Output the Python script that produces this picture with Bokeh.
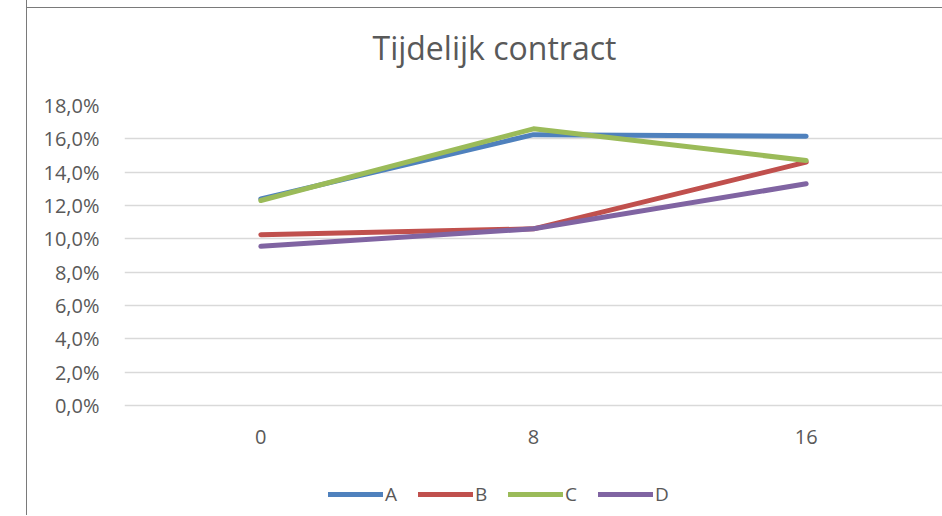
from bokeh.plotting import figure
from bokeh.models import FactorRange, FixedTicker, Legend, LegendItem, ColumnDataSource
from bokeh.embed import file_html
from bokeh.resources import INLINE

# ---- data ----
categories = ["0", "8", "16"]
series_names = ["A", "B", "C", "D"]
values_A = [12.4, 16.25, 16.15]
values_B = [10.25, 10.6, 14.6]
values_C = [12.3, 16.6, 14.7]
values_D = [9.55, 10.6, 13.3]
y_ticks = [0, 2, 4, 6, 8, 10, 12, 14, 16, 18]
y_tick_labels = ["0,0%", "2,0%", "4,0%", "6,0%", "8,0%", "10,0%", "12,0%", "14,0%", "16,0%", "18,0%"]
title_text = "Tijdelijk contract"

colors = ["#4F81BD", "#C0504D", "#9BBB59", "#8064A2"]
TEXT = "#595959"
FONT = "Open Sans"
FRAME_LINE = "#7a7a7a"

# frame extends below 0 % so the legend can live inside it (300px for 0..18)
p = figure(
    x_range=FactorRange(*categories, range_padding=0),
    y_range=(-6.6, 18),
    frame_width=818, frame_height=410,
    output_backend="svg", toolbar_location=None,
    min_border_left=97, min_border_right=0, min_border_top=97, min_border_bottom=0,
)
# chart-area frame: left border + a top rule drawn as a CSS background line
p.styles = {
    "margin-left": "26px",
    "margin-top": "-14px",
    "border-left": f"1px solid {FRAME_LINE}",
    "background": f"linear-gradient({FRAME_LINE}, {FRAME_LINE}) 0 21px / 100% 1px no-repeat, white",
}
p.outline_line_color = None
p.background_fill_color = "white"
p.border_fill_color = None

# title
p.title.text = title_text
p.title.text_font = FONT
p.title.text_font_size = "32px"
p.title.text_font_style = "normal"
p.title.text_color = TEXT
p.title.align = "left"
p.title.offset = 248
p.title.standoff = 74

# axes
p.yaxis.ticker = FixedTicker(ticks=y_ticks)
p.yaxis.major_label_overrides = {t: l for t, l in zip(y_ticks, y_tick_labels)}
p.yaxis.axis_line_color = None
p.yaxis.major_tick_line_color = None
p.yaxis.minor_tick_line_color = None
p.yaxis.major_label_standoff = 19
p.yaxis.major_label_text_font = FONT
p.yaxis.major_label_text_font_size = "20px"
p.yaxis.major_label_text_color = TEXT

p.xaxis.fixed_location = 0
p.xaxis.axis_line_color = None
p.xaxis.major_tick_line_color = None
p.xaxis.minor_tick_line_color = None
p.xaxis.major_label_standoff = 18
p.xaxis.major_label_text_font = FONT
p.xaxis.major_label_text_font_size = "20px"
p.xaxis.major_label_text_color = TEXT

p.xgrid.grid_line_color = None
p.ygrid.grid_line_color = "#D9D9D9"
p.ygrid.grid_line_width = 1.5

items = []
for name, vals, c in zip(series_names, [values_A, values_B, values_C, values_D], colors):
    src = ColumnDataSource(dict(x=categories, y=vals))
    r = p.line("x", "y", source=src, line_color=c, line_width=5, line_cap="round", line_join="round")
    items.append(LegendItem(label=name, renderers=[r]))

legend = Legend(items=items, orientation="horizontal", location=(204, 8))
legend.label_text_font = FONT
legend.label_text_font_size = "19px"
legend.label_text_color = TEXT
legend.glyph_width = 55
legend.glyph_height = 20
legend.label_standoff = 2
legend.spacing = 13
legend.border_line_color = None
legend.background_fill_alpha = 0
legend.margin = 0
legend.padding = 5
p.add_layout(legend, "center")

open("out.html", "w").write(file_html(p, INLINE))
